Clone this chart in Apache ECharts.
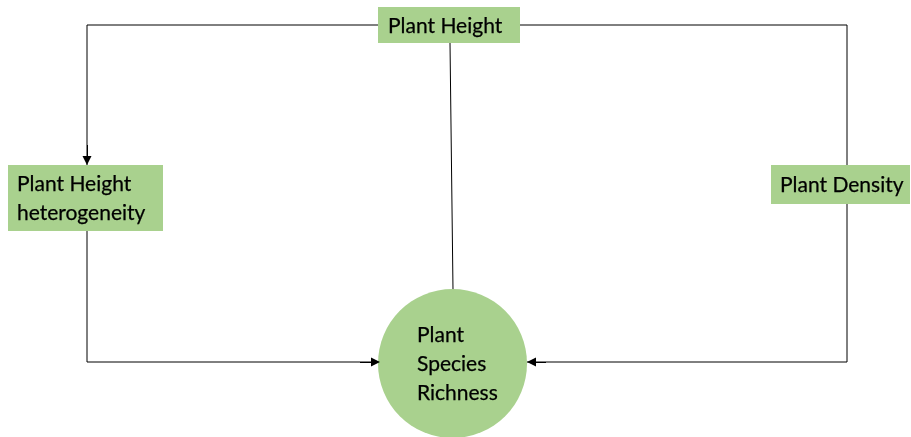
<!DOCTYPE html>
<html>
<head>
<meta charset="utf-8">
<script src="https://cdn.jsdelivr.net/npm/echarts@6/dist/echarts.min.js"></script>
<style>
  html, body { margin: 0; padding: 0; background: #fff; }
  #chart { width: 911px; height: 437px; }
</style>
</head>
<body>
<div id="chart"></div>
<script>
// node labels
const nodeLabels = ['Plant Height', 'Plant Height\nheterogeneity', 'Plant Density', 'Plant\nSpecies\nRichness'];
const nodeShapes = ['rect', 'rect', 'rect', 'circle'];
// node layout (canvas units, y grows downward)
const nodeLeft = [378, 8, 771, 378];
const nodeTop = [7, 165, 165, 289];
const nodeWidth = [142, 155, 139, 149];
const nodeHeight = [36, 66, 39, 149];
const textLeft = [388, 17, 780, 417];

// connector bodies (polylines without heads)
const bodyPaths = [
  [[378, 25], [87, 25], [87, 165]],
  [[87, 231], [87, 362], [379, 362]],
  [[847, 204], [847, 362], [527, 362]],
  [[520, 25], [847, 25], [847, 165]],
  [[450, 43], [453, 290]]
];
// last straight pieces carrying the arrow head (head is centred on the end point)
const headPaths = [
  [[87, 145], [87, 160.5]],
  [[360, 362], [375.5, 362]],
  [[546, 362], [531.5, 362]]
];

const green = '#a9d18e';

const chart = echarts.init(document.getElementById('chart'));

const nodeData = nodeLabels.map((t, i) => [nodeLeft[i], nodeTop[i], nodeWidth[i], nodeHeight[i], textLeft[i], i]);

const lineStyle = { color: '#000', width: 1, opacity: 1 };

chart.setOption({
  animation: false,
  grid: { left: 0, right: 0, top: 0, bottom: 0 },
  xAxis: { type: 'value', min: 0, max: 911, show: false },
  yAxis: { type: 'value', min: 0, max: 437, inverse: true, show: false },
  series: [
    {
      type: 'lines',
      coordinateSystem: 'cartesian2d',
      polyline: true,
      z: 1,
      data: bodyPaths.map(p => ({ coords: p })),
      lineStyle: lineStyle
    },
    {
      type: 'lines',
      coordinateSystem: 'cartesian2d',
      z: 3,
      symbol: ['none', 'triangle'],
      symbolSize: [7, 9],
      data: headPaths.map(p => ({ coords: p })),
      lineStyle: lineStyle
    },
    {
      type: 'custom',
      z: 2,
      data: nodeData,
      renderItem: function (params, api) {
        const i = api.value(5);
        const p0 = api.coord([api.value(0), api.value(1)]);
        const p1 = api.coord([api.value(0) + api.value(2), api.value(1) + api.value(3)]);
        const w = p1[0] - p0[0], h = p1[1] - p0[1];
        const tx = api.coord([api.value(4), 0])[0];
        let shape;
        if (nodeShapes[i] === 'circle') {
          shape = { type: 'circle', shape: { cx: p0[0] + w / 2, cy: p0[1] + h / 2, r: w / 2 }, style: { fill: green } };
        } else {
          shape = { type: 'rect', shape: { x: p0[0], y: p0[1], width: w, height: h }, style: { fill: green } };
        }
        return {
          type: 'group',
          children: [
            shape,
            {
              type: 'text',
              style: {
                text: nodeLabels[i],
                x: tx,
                y: p0[1] + h / 2 + 1,
                align: 'left',
                verticalAlign: 'middle',
                font: '21px Lato, "Open Sans", sans-serif',
                lineHeight: 29,
                fill: '#000',
                stroke: '#000',
                lineWidth: 0.25
              }
            }
          ]
        };
      }
    }
  ]
});
</script>
</body>
</html>
